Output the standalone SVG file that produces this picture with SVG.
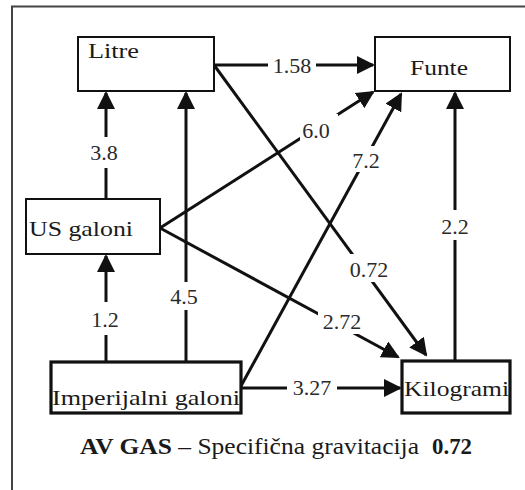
<svg xmlns="http://www.w3.org/2000/svg" width="525" height="490" viewBox="0 0 525 490">
<style>
.box{fill:#fff;stroke:#111;stroke-width:2}
.thick{stroke-width:3.2}
.lbl{font-size:21px;fill:#1a1a1a}
.num{font-size:22px;fill:#2a2a2a;text-anchor:middle}
.edge{stroke:#111;stroke-width:3;fill:none}
.arr{marker-end:url(#ah)}
.gap{fill:#fff;stroke:none}
.cap{font-size:24px;fill:#1a1a1a}
</style>
<defs>
<marker id="ah" markerUnits="userSpaceOnUse" markerWidth="18" markerHeight="18" refX="16" refY="9" orient="auto">
<path d="M0,0 L18,9 L0,18 z" fill="#111"/>
</marker>
</defs>
<rect x="0" y="0" width="525" height="490" fill="#fff"/>
<path d="M12,490 V6.5 H525" fill="none" stroke="#444" stroke-width="2"/>

<g id="connectors" font-family="'Liberation Serif', 'Times New Roman', 'DejaVu Serif', serif">
<line class="edge arr" x1="106" y1="199" x2="106" y2="93"/>
<line class="edge arr" x1="186" y1="362" x2="186" y2="93"/>
<line class="edge arr" x1="106" y1="362" x2="106" y2="256"/>
<line class="edge arr" x1="214" y1="65" x2="373" y2="65"/>
<line class="edge arr" x1="214" y1="65" x2="426" y2="355"/>
<line class="edge arr" x1="160" y1="228" x2="373" y2="92"/>
<line class="edge arr" x1="160" y1="228" x2="398" y2="357"/>
<line class="edge arr" x1="241" y1="386" x2="401" y2="94"/>
<line class="edge arr" x1="241" y1="388" x2="400" y2="388"/>
<line class="edge arr" x1="455" y1="361" x2="455" y2="93"/>
<rect class="gap" x="92" y="137" width="28" height="31"/>
<rect class="gap" x="168" y="282" width="34" height="28"/>
<rect class="gap" x="92" y="302" width="28" height="33"/>
<rect class="gap" x="268" y="54" width="48" height="22"/>
<rect class="gap" x="300" y="114" width="38" height="26"/>
<rect class="gap" x="348" y="146" width="36" height="26"/>
<rect class="gap" x="345" y="254" width="48" height="28"/>
<rect class="gap" x="318" y="308" width="48" height="26"/>
<rect class="gap" x="287" y="376" width="50" height="22"/>
<rect class="gap" x="438" y="210" width="34" height="30"/>
<text class="num" x="104" y="160">3.8</text>
<text class="num" x="184" y="304">4.5</text>
<text class="num" x="105" y="327">1.2</text>
<text class="num" x="292" y="73">1.58</text>
<text class="num" x="316" y="138">6.0</text>
<text class="num" x="366" y="168">7.2</text>
<text class="num" x="369" y="277">0.72</text>
<text class="num" x="342" y="329">2.72</text>
<text class="num" x="312" y="395">3.27</text>
<text class="num" x="455" y="234">2.2</text>
</g>

<g id="litre" font-family="'Liberation Serif', 'Times New Roman', 'DejaVu Serif', serif">
<rect class="box" x="78" y="37" width="136" height="54"/>
<text class="lbl" x="88" y="58" textLength="51" lengthAdjust="spacingAndGlyphs">Litre</text>
</g>
<g id="funte" font-family="'Liberation Serif', 'Times New Roman', 'DejaVu Serif', serif">
<rect class="box" x="375" y="37" width="135" height="54"/>
<text class="lbl" x="410" y="75" textLength="58" lengthAdjust="spacingAndGlyphs">Funte</text>
</g>
<g id="us-galoni" font-family="'Liberation Serif', 'Times New Roman', 'DejaVu Serif', serif">
<rect class="box" x="26" y="199" width="134" height="55"/>
<text class="lbl" x="29" y="236" textLength="104" lengthAdjust="spacingAndGlyphs">US galoni</text>
</g>
<g id="imperijalni-galoni" font-family="'Liberation Serif', 'Times New Roman', 'DejaVu Serif', serif">
<rect class="box thick" x="51" y="362" width="190" height="51"/>
<text class="lbl" x="52" y="405" textLength="188" lengthAdjust="spacingAndGlyphs">Imperijalni galoni</text>
</g>
<g id="kilogrami" font-family="'Liberation Serif', 'Times New Roman', 'DejaVu Serif', serif">
<rect class="box thick" x="402" y="361" width="108" height="52"/>
<text class="lbl" x="404" y="396" textLength="105" lengthAdjust="spacingAndGlyphs">Kilogrami</text>
</g>

<g id="caption" font-family="'Liberation Serif', 'Times New Roman', 'DejaVu Serif', serif">
<text class="cap" x="80" y="454" textLength="339" lengthAdjust="spacingAndGlyphs"><tspan font-weight="bold">AV GAS</tspan> – Specifična gravitacija</text>
<text class="cap" x="432" y="454" font-weight="bold" textLength="40" lengthAdjust="spacingAndGlyphs">0.72</text>
</g>
</svg>
